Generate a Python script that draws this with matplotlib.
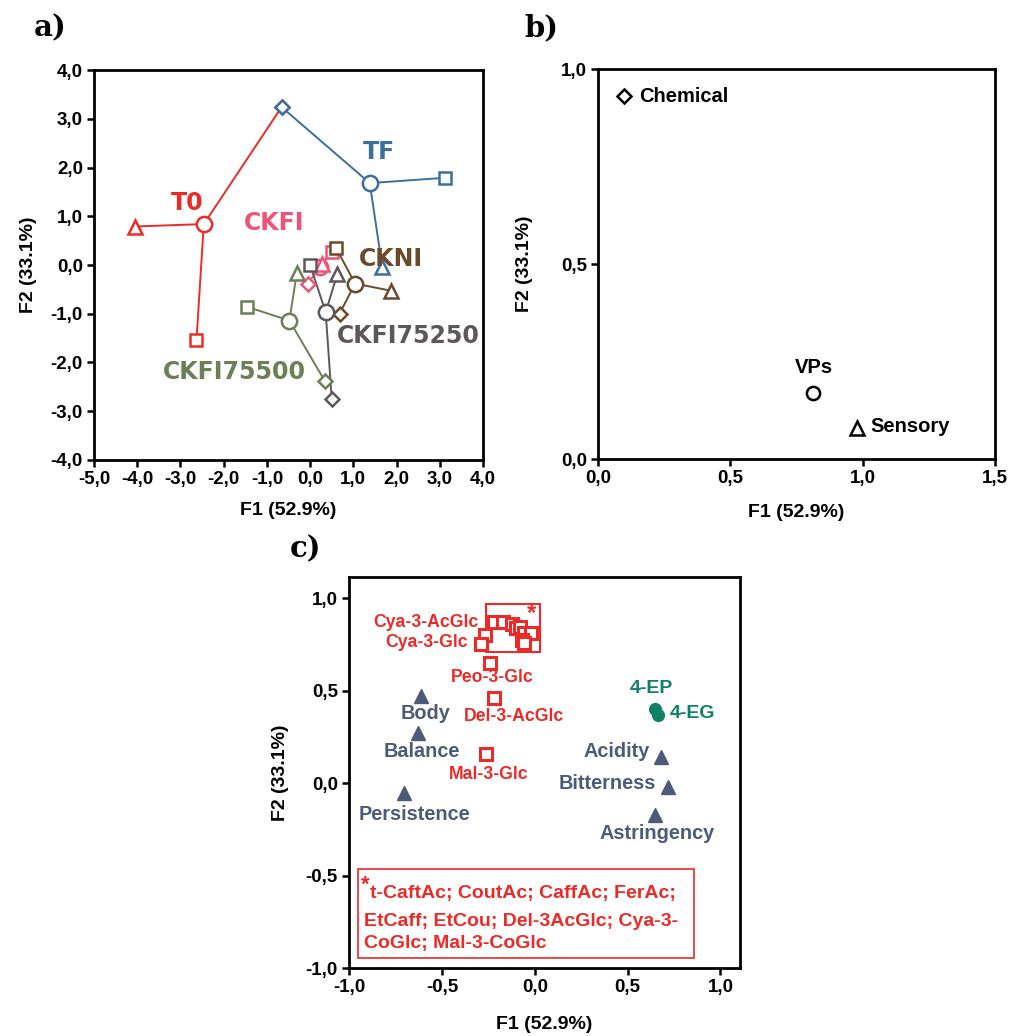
import matplotlib
matplotlib.use("Agg")
import matplotlib.pyplot as plt
from matplotlib.ticker import FuncFormatter, MultipleLocator
from matplotlib.patches import Rectangle

plt.rcParams['font.family'] = ['Liberation Sans', 'DejaVu Sans']
plt.rcParams['font.weight'] = 'bold'

# ---------------- Panel a data ----------------
groups = ['T0', 'TF', 'CKFI', 'CKNI', 'CKFI75250', 'CKFI75500']
group_colors = ['#ec2a2a', '#3c6e9e', '#ee5378', '#6b4a2b', '#5d5759', '#6c7f56']
centroid_x = [-2.46, 1.38, 0.22, 1.04, 0.36, -0.48]
centroid_y = [0.84, 1.68, -0.05, -0.38, -0.97, -1.14]
chem_x = [-0.66, -0.66, -0.05, 0.68, 0.50, 0.34]
chem_y = [3.24, 3.24, -0.38, -1.00, -2.75, -2.38]
sens_x = [-4.05, 1.67, 0.28, 1.88, 0.63, -0.31]
sens_y = [0.79, -0.05, 0.03, -0.53, -0.18, -0.17]
vps_x = [-2.63, 3.13, 0.50, 0.60, 0.00, -1.45]
vps_y = [-1.54, 1.79, 0.27, 0.35, 0.00, -0.86]
label_x = [-2.84, 1.59, -0.84, 1.86, 2.27, -1.76]
label_y = [1.28, 2.32, 0.86, 0.12, -1.46, -2.19]

# ---------------- Panel b data ----------------
tables = ['Chemical', 'VPs', 'Sensory']
table_x = [0.097, 0.814, 0.978]
table_y = [0.93, 0.17, 0.079]
table_markers = ['D', 'o', '^']

# ---------------- Panel c data ----------------
sensory_names = ['Body', 'Balance', 'Persistence', 'Acidity', 'Bitterness', 'Astringency']
sensory_x = [-0.61, -0.63, -0.705, 0.68, 0.72, 0.65]
sensory_y = [0.47, 0.27, -0.05, 0.14, -0.02, -0.17]
sensory_lx = [-0.59, -0.61, -0.65, 0.44, 0.39, 0.66]
sensory_ly = [0.375, 0.17, -0.17, 0.17, 0.0, -0.27]

volatile_names = ['4-EP', '4-EG']
volatile_x = [0.650, 0.665]
volatile_y = [0.40, 0.37]
volatile_lx = [0.63, 0.85]
volatile_ly = [0.51, 0.375]

antho_names = ['Cya-3-AcGlc', 'Cya-3-Glc', 'Peo-3-Glc', 'Del-3-AcGlc', 'Mal-3-Glc']
antho_x = [-0.27, -0.29, -0.24, -0.22, -0.26]
antho_y = [0.80, 0.755, 0.65, 0.46, 0.16]
antho_lx = [-0.305, -0.36, -0.23, -0.11, -0.25]
antho_ly = [0.87, 0.76, 0.57, 0.36, 0.05]
antho_ha = ['right', 'right', 'center', 'center', 'center']

cluster_x = [-0.22, -0.17, -0.12, -0.10, -0.08, -0.06, -0.02, -0.07, -0.06]
cluster_y = [0.87, 0.87, 0.86, 0.84, 0.845, 0.815, 0.81, 0.775, 0.76]
cluster_note = ['t-CaftAc; CoutAc; CaffAc; FerAc;',
                'EtCaff; EtCou; Del-3AcGlc; Cya-3-',
                'CoGlc; Mal-3-CoGlc']

RED = '#ec2a2a'
SLATE = '#4d5a78'
TEAL = '#0e8168'

comma = FuncFormatter(lambda v, p: f"{v:.1f}".replace('.', ','))


def style_axes(ax):
    for s in ax.spines.values():
        s.set_linewidth(2.0)
        s.set_color('black')
    ax.tick_params(direction='out', length=5, width=1.8, labelsize=13.5, pad=3)
    ax.xaxis.set_major_formatter(comma)
    ax.yaxis.set_major_formatter(comma)
    for t in ax.get_xticklabels() + ax.get_yticklabels():
        t.set_fontweight('bold')


fig = plt.figure(figsize=(10.09, 10.36), dpi=100)

# ---------------- Panel a ----------------
axa = fig.add_axes([0.0932, 0.5560, 0.3855, 0.3764])
for i, g in enumerate(groups):
    c = group_colors[i]
    for px, py in [(chem_x[i], chem_y[i]), (sens_x[i], sens_y[i]), (vps_x[i], vps_y[i])]:
        axa.plot([centroid_x[i], px], [centroid_y[i], py], color=c, lw=1.4, zorder=2)
    axa.plot(centroid_x[i], centroid_y[i], 'o', ms=11, mfc='white', mec=c, mew=1.8, zorder=3)
    axa.plot(chem_x[i], chem_y[i], 'D', ms=7.5, mfc='white', mec=c, mew=1.8, zorder=3)
    axa.plot(sens_x[i], sens_y[i], '^', ms=9.5, mfc='white', mec=c, mew=1.8, zorder=3)
    axa.plot(vps_x[i], vps_y[i], 's', ms=8.5, mfc='white', mec=c, mew=1.8, zorder=3)
    axa.text(label_x[i], label_y[i], g, color=c, fontsize=17, fontweight='heavy',
             family='DejaVu Sans', ha='center', va='center', zorder=4)
axa.set_xlim(-5, 4)
axa.set_ylim(-4, 4)
axa.xaxis.set_major_locator(MultipleLocator(1))
axa.yaxis.set_major_locator(MultipleLocator(1))
style_axes(axa)
axa.set_xlabel('F1 (52.9%)', fontsize=14, fontweight='bold', labelpad=10)
axa.set_ylabel('F2 (33.1%)', fontsize=14, fontweight='bold', labelpad=10)

# ---------------- Panel b ----------------
axb = fig.add_axes([0.5927, 0.5569, 0.3935, 0.3764])
for name, x, y, m in zip(tables, table_x, table_y, table_markers):
    ms = 7 if m == 'D' else 9.5
    axb.plot(x, y, m, ms=ms, mfc='white', mec='black', mew=1.8)
axb.text(table_x[0] + 0.06, table_y[0], tables[0], fontsize=14.5, fontweight='bold',
         ha='left', va='center')
axb.text(table_x[1], table_y[1] + 0.065, tables[1], fontsize=14.5, fontweight='bold',
         ha='center', va='center')
axb.text(table_x[2] + 0.05, table_y[2] + 0.004, tables[2], fontsize=14.5, fontweight='bold',
         ha='left', va='center')
axb.set_xlim(0, 1.5)
axb.set_ylim(0, 1.0)
axb.xaxis.set_major_locator(MultipleLocator(0.5))
axb.yaxis.set_major_locator(MultipleLocator(0.5))
style_axes(axb)
axb.set_xlabel('F1 (52.9%)', fontsize=14, fontweight='bold', labelpad=12)
axb.set_ylabel('F2 (33.1%)', fontsize=14, fontweight='bold', labelpad=20)

# ---------------- Panel c ----------------
axc = fig.add_axes([0.3459, 0.0654, 0.3875, 0.3780])
axc.plot(sensory_x, sensory_y, '^', ms=10, color=SLATE, zorder=3)
for n, x, y in zip(sensory_names, sensory_lx, sensory_ly):
    axc.text(x, y, n, color=SLATE, fontsize=14.3, fontweight='bold', ha='center', va='center')
axc.plot(volatile_x, volatile_y, 'o', ms=8.5, color=TEAL, zorder=3)
for n, x, y in zip(volatile_names, volatile_lx, volatile_ly):
    axc.text(x, y, n, color=TEAL, fontsize=14, fontweight='bold', ha='center', va='center')
axc.plot(antho_x, antho_y, 's', ms=8, mfc='white', mec=RED, mew=2.2, zorder=3)
for n, x, y, ha in zip(antho_names, antho_lx, antho_ly, antho_ha):
    axc.text(x, y, n, color=RED, fontsize=12.7, fontweight='bold', ha=ha, va='center')
axc.plot(cluster_x, cluster_y, 's', ms=8, mfc='white', mec=RED, mew=2.2, zorder=3)
axc.add_patch(Rectangle((-0.26, 0.71), 0.29, 0.26, fill=False, ec=RED, lw=1.5, zorder=2))
axc.text(-0.02, 0.92, '*', color=RED, fontsize=17, fontweight='bold', ha='center', va='center')
# note box
axc.add_patch(Rectangle((-0.95, -0.946), 1.81, 0.481, fill=False, ec=RED, lw=1.2, zorder=2))
note_y = [-0.598, -0.745, -0.868]
axc.text(-0.89, note_y[0] + 0.045, '*', color=RED, fontsize=16, fontweight='bold',
         ha='right', va='center')
axc.text(-0.885, note_y[0], cluster_note[0], color=RED, fontsize=14, fontweight='bold',
         ha='left', va='center')
axc.text(-0.918, note_y[1], cluster_note[1], color=RED, fontsize=14, fontweight='bold',
         ha='left', va='center')
axc.text(-0.918, note_y[2], cluster_note[2], color=RED, fontsize=14, fontweight='bold',
         ha='left', va='center')
axc.set_xlim(-1.0, 1.105)
axc.set_ylim(-1.0, 1.117)
axc.xaxis.set_major_locator(MultipleLocator(0.5))
axc.yaxis.set_major_locator(MultipleLocator(0.5))
style_axes(axc)
axc.set_xlabel('F1 (52.9%)', fontsize=14, fontweight='bold', labelpad=14)
axc.set_ylabel('F2 (33.1%)', fontsize=14, fontweight='bold', labelpad=12)

# panel letters
for lab, x, y in [('a)', 0.033, 0.973), ('b)', 0.52, 0.973), ('c)', 0.287, 0.47)]:
    fig.text(x, y, lab, fontsize=21, fontweight='bold', family='DejaVu Serif',
             ha='left', va='center')

fig.savefig('out.png', dpi=100)
